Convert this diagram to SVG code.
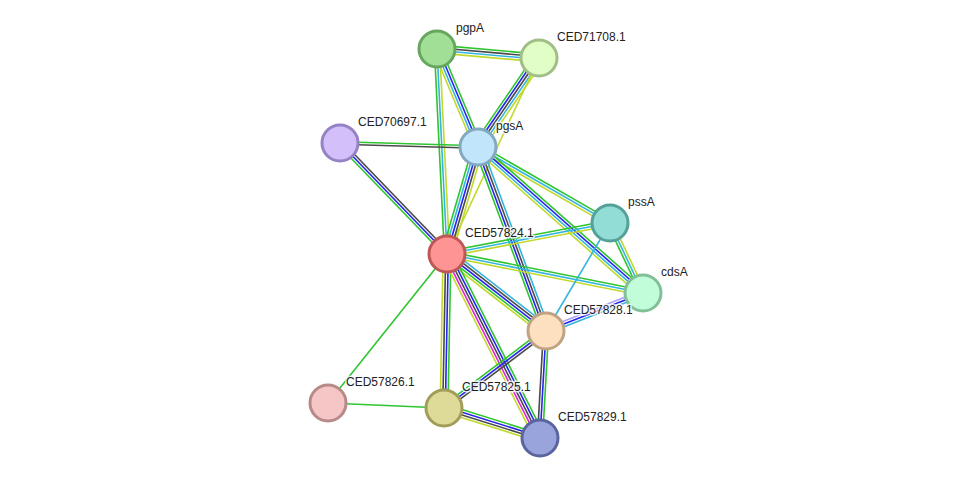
<svg xmlns="http://www.w3.org/2000/svg" width="975" height="484" viewBox="0 0 975 484">
<style>
line{stroke-width:1.6;fill:none}
.g{stroke:#2fc52f}.b{stroke:#2424f0}.k{stroke:#4a4a4a}.c{stroke:#33b5e0}.y{stroke:#c2d92c}.m{stroke:#dd22dd}.l{stroke:#a9a2f5}
circle{stroke-width:3}
text{font-family:"Liberation Sans",Arial,sans-serif;font-size:12px;fill:#222;stroke:#fff;stroke-width:3;stroke-opacity:0.8;paint-order:stroke;stroke-linejoin:round}
</style>
<rect width="975" height="484" fill="#fff"/>
<g id="edges">
<g transform="translate(437,49) rotate(5.04)"><line x2="102.4" y1="-3.9" y2="-3.9" class="g"/><line x2="102.4" y1="-1.3" y2="-1.3" class="k"/><line x2="102.4" y1="1.3" y2="1.3" class="c"/><line x2="102.4" y1="3.9" y2="3.9" class="y"/></g>
<g transform="translate(437,49) rotate(67.3)"><line x2="106.2" y1="-3.9" y2="-3.9" class="g"/><line x2="106.2" y1="-1.3" y2="-1.3" class="b"/><line x2="106.2" y1="1.3" y2="1.3" class="c"/><line x2="106.2" y1="3.9" y2="3.9" class="y"/></g>
<g transform="translate(437,49) rotate(87.2)"><line x2="205.2" y1="-2.6" y2="-2.6" class="y"/><line x2="205.2" y1="0" y2="0" class="c"/><line x2="205.2" y1="2.6" y2="2.6" class="g"/></g>
<g transform="translate(539,58) rotate(124.4)"><line x2="107.9" y1="-5.2" y2="-5.2" class="y"/><line x2="107.9" y1="-2.6" y2="-2.6" class="c"/><line x2="107.9" y1="0" y2="0" class="k"/><line x2="107.9" y1="2.6" y2="2.6" class="b"/><line x2="107.9" y1="5.2" y2="5.2" class="g"/></g>
<g transform="translate(539,58) rotate(115.1)"><line x2="216.5" class="y"/></g>
<g transform="translate(340,143) rotate(1.66)"><line x2="138.1" y1="-1.3" y2="-1.3" class="g"/><line x2="138.1" y1="1.3" y2="1.3" class="k"/></g>
<g transform="translate(340,143) rotate(46.05)"><line x2="154.2" y1="-2.6" y2="-2.6" class="k"/><line x2="154.2" y1="0" y2="0" class="b"/><line x2="154.2" y1="2.6" y2="2.6" class="g"/></g>
<g transform="translate(478,147) rotate(106.2)"><line x2="111.4" y1="-5.2" y2="-5.2" class="y"/><line x2="111.4" y1="-2.6" y2="-2.6" class="k"/><line x2="111.4" y1="0" y2="0" class="b"/><line x2="111.4" y1="2.6" y2="2.6" class="c"/><line x2="111.4" y1="5.2" y2="5.2" class="g"/></g>
<g transform="translate(478,147) rotate(29.9)"><line x2="152.3" y1="-2.6" y2="-2.6" class="g"/><line x2="152.3" y1="0" y2="0" class="c"/><line x2="152.3" y1="2.6" y2="2.6" class="y"/></g>
<g transform="translate(478,147) rotate(41.5)"><line x2="220.3" y1="-3.9" y2="-3.9" class="g"/><line x2="220.3" y1="-1.3" y2="-1.3" class="b"/><line x2="220.3" y1="1.3" y2="1.3" class="c"/><line x2="220.3" y1="3.9" y2="3.9" class="y"/></g>
<g transform="translate(478,147) rotate(69.7)"><line x2="196.2" y1="-3.9" y2="-3.9" class="c"/><line x2="196.2" y1="-1.3" y2="-1.3" class="k"/><line x2="196.2" y1="1.3" y2="1.3" class="b"/><line x2="196.2" y1="3.9" y2="3.9" class="g"/></g>
<g transform="translate(447,254) rotate(-10.77)"><line x2="165.9" y1="-2.6" y2="-2.6" class="g"/><line x2="165.9" y1="0" y2="0" class="c"/><line x2="165.9" y1="2.6" y2="2.6" class="y"/></g>
<g transform="translate(447,254) rotate(11.25)"><line x2="199.8" y1="-2.6" y2="-2.6" class="g"/><line x2="199.8" y1="0" y2="0" class="c"/><line x2="199.8" y1="2.6" y2="2.6" class="y"/></g>
<g transform="translate(447,254) rotate(37.9)"><line x2="125.4" y1="-5.2" y2="-5.2" class="c"/><line x2="125.4" y1="-2.6" y2="-2.6" class="k"/><line x2="125.4" y1="0" y2="0" class="b"/><line x2="125.4" y1="2.6" y2="2.6" class="g"/><line x2="125.4" y1="5.2" y2="5.2" class="y"/></g>
<g transform="translate(447,254) rotate(91.1)"><line x2="154" y1="-3.9" y2="-3.9" class="g"/><line x2="154" y1="-1.3" y2="-1.3" class="b"/><line x2="154" y1="1.3" y2="1.3" class="k"/><line x2="154" y1="3.9" y2="3.9" class="y"/></g>
<g transform="translate(447,254) rotate(63.2)"><line x2="206.2" y1="-5.2" y2="-5.2" class="g"/><line x2="206.2" y1="-2.6" y2="-2.6" class="b"/><line x2="206.2" y1="0" y2="0" class="k"/><line x2="206.2" y1="2.6" y2="2.6" class="m"/><line x2="206.2" y1="5.2" y2="5.2" class="y"/></g>
<g transform="translate(447,254) rotate(128.6)"><line x2="190.7" class="g"/></g>
<g transform="translate(610,223) rotate(64.8)"><line x2="77.4" y1="-2.6" y2="-2.6" class="y"/><line x2="77.4" y1="0" y2="0" class="c"/><line x2="77.4" y1="2.6" y2="2.6" class="g"/></g>
<g transform="translate(610,223) rotate(120.6)"><line x2="125.5" class="c"/></g>
<g transform="translate(643,293) rotate(158.6)"><line x2="104.2" y1="-2.6" y2="-2.6" class="c"/><line x2="104.2" y1="0" y2="0" class="b"/><line x2="104.2" y1="2.6" y2="2.6" class="l"/></g>
<g transform="translate(546,331) rotate(142.9)"><line x2="127.8" y1="-2.6" y2="-2.6" class="k"/><line x2="127.8" y1="0" y2="0" class="b"/><line x2="127.8" y1="2.6" y2="2.6" class="g"/></g>
<g transform="translate(546,331) rotate(93.2)"><line x2="107.2" y1="-2.6" y2="-2.6" class="g"/><line x2="107.2" y1="0" y2="0" class="b"/><line x2="107.2" y1="2.6" y2="2.6" class="k"/></g>
<g transform="translate(328,403) rotate(2.47)"><line x2="116.1" class="g"/></g>
<g transform="translate(444,408) rotate(17.35)"><line x2="100.6" y1="-3.9" y2="-3.9" class="g"/><line x2="100.6" y1="-1.3" y2="-1.3" class="b"/><line x2="100.6" y1="1.3" y2="1.3" class="k"/><line x2="100.6" y1="3.9" y2="3.9" class="y"/></g>
</g>
<g id="pgpA"><circle cx="437" cy="49" r="18" fill="#a1de96" stroke="#66a65e"/><text x="456" y="32">pgpA</text></g>
<g id="CED71708.1"><circle cx="539" cy="58" r="18" fill="#e1fec6" stroke="#a1be86"/><text x="557" y="41">CED71708.1</text></g>
<g id="CED70697.1"><circle cx="340" cy="143" r="18" fill="#d3c0fb" stroke="#9583c6"/><text x="358" y="126">CED70697.1</text></g>
<g id="pgsA"><circle cx="478" cy="147" r="18" fill="#c1e6fb" stroke="#83a9c0"/><text x="496" y="130">pgsA</text></g>
<g id="pssA"><circle cx="610" cy="223" r="18" fill="#92ddd6" stroke="#55a198"/><text x="628" y="206">pssA</text></g>
<g id="CED57824.1"><circle cx="447" cy="254" r="18" fill="#fe9494" stroke="#bf5757"/><text x="465" y="237">CED57824.1</text></g>
<g id="cdsA"><circle cx="643" cy="293" r="18" fill="#c0fdd8" stroke="#82c098"/><text x="661" y="276">cdsA</text></g>
<g id="CED57828.1"><circle cx="546" cy="331" r="18" fill="#fde0c0" stroke="#c0a383"/><text x="564" y="314">CED57828.1</text></g>
<g id="CED57826.1"><circle cx="328" cy="403" r="18" fill="#f6c6c6" stroke="#b78989"/><text x="346" y="386">CED57826.1</text></g>
<g id="CED57825.1"><circle cx="444" cy="408" r="18" fill="#deda98" stroke="#a09e5a"/><text x="462" y="391">CED57825.1</text></g>
<g id="CED57829.1"><circle cx="540" cy="438" r="18" fill="#9aa4dc" stroke="#5a659f"/><text x="558" y="421">CED57829.1</text></g>
</svg>
